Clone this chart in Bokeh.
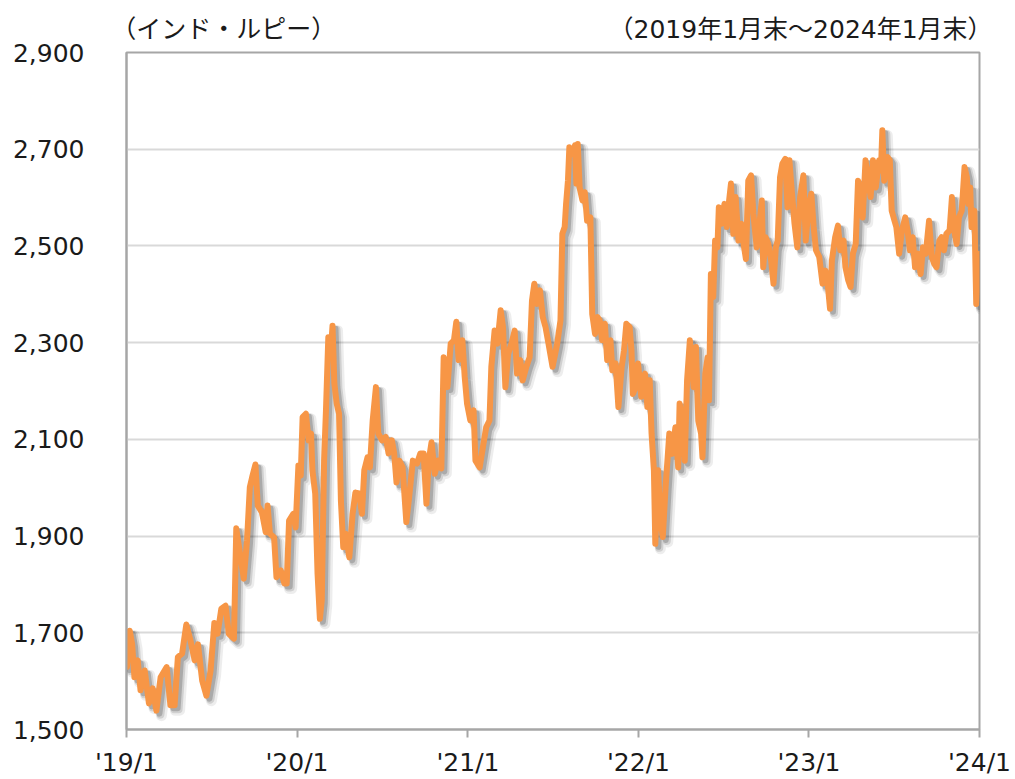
from bokeh.plotting import figure
from bokeh.models import FixedTicker, NumeralTickFormatter, LinearAxis, Range1d, ColumnDataSource
from bokeh.embed import file_html
from bokeh.resources import INLINE

# ---- data: days since 2019-01-31 and price (Indian rupee) ----
days = [0, 1, 7, 12, 17, 24, 30, 39, 48, 56, 64, 73, 86, 94, 103, 110, 119, 128, 137, 146,
        153, 162, 171, 180, 188, 195, 203, 212, 219, 230, 235, 243, 251, 258, 264, 269, 276, 281, 290, 298,
        302, 307, 316, 321, 330, 338, 343, 348, 357, 362, 368, 373, 377, 384, 390, 395, 398, 404, 409, 414,
        418, 423, 427, 432, 437, 441, 445, 450, 455, 459, 464, 469, 477, 484, 490, 498, 504, 509, 516, 521,
        527, 534, 539, 547, 555, 561, 568, 573, 578, 584, 591, 599, 605, 613, 622, 629, 636, 642, 647, 653,
        660, 667, 674, 679, 687, 694, 701, 706, 711, 719, 724, 729, 736, 743, 747, 756, 763, 770, 777, 781,
        788, 794, 801, 806, 811, 817, 824, 831, 836, 843, 848, 856, 863, 868, 873, 878, 885, 891, 897, 903,
        912, 922, 929, 933, 938, 941, 945, 948, 954, 960, 963, 966, 970, 976, 981, 986, 993, 997, 1003, 1008,
        1013, 1018, 1024, 1029, 1036, 1040, 1047, 1053, 1060, 1065, 1070, 1077, 1081, 1084, 1090, 1095, 1102, 1110, 1115, 1120,
        1124, 1129, 1132, 1138, 1143, 1148, 1154, 1162, 1168, 1175, 1181, 1184, 1190, 1195, 1200, 1206, 1214, 1219, 1224, 1230,
        1233, 1239, 1244, 1247, 1251, 1256, 1260, 1265, 1268, 1274, 1280, 1285, 1290, 1294, 1299, 1304, 1310, 1316, 1321, 1326,
        1331, 1337, 1342, 1349, 1355, 1360, 1363, 1368, 1374, 1380, 1385, 1390, 1394, 1399, 1404, 1410, 1415, 1419, 1424, 1430,
        1436, 1442, 1449, 1454, 1460, 1466, 1471, 1476, 1483, 1490, 1496, 1501, 1506, 1510, 1517, 1523, 1528, 1535, 1539, 1545,
        1550, 1555, 1561, 1566, 1571, 1576, 1582, 1588, 1593, 1598, 1604, 1611, 1615, 1618, 1622, 1629, 1634, 1638, 1644, 1648,
        1654, 1660, 1667, 1672, 1677, 1683, 1688, 1694, 1700, 1705, 1711, 1718, 1724, 1729, 1734, 1740, 1745, 1750, 1755, 1762,
        1767, 1772, 1777, 1782, 1788, 1794, 1799, 1802, 1806, 1809, 1815, 1819, 1826]
price = [1640, 1629, 1704, 1677, 1608, 1643, 1581, 1622, 1554, 1585, 1539, 1608, 1629, 1550, 1550, 1650, 1657, 1717, 1684, 1643,
         1676, 1601, 1570, 1622, 1720, 1698, 1750, 1756, 1698, 1688, 1916, 1864, 1812, 1891, 2001, 2022, 2048, 1963, 1949, 1908,
         1963, 1905, 1897, 1815, 1829, 1802, 1802, 1932, 1946, 1918, 2046, 2025, 2146, 2153, 2098, 2112, 2036, 1988, 1822, 1729,
         1767, 2056, 2160, 2311, 2277, 2335, 2215, 2174, 2153, 1973, 1877, 1905, 1856, 1946, 1990, 1988, 1946, 2036, 2063, 2042,
         2139, 2208, 2112, 2098, 2105, 2071, 2098, 2071, 2011, 2056, 2042, 1929, 1980, 2056, 2050, 2071, 2071, 1967, 2056, 2094,
         2029, 2056, 2040, 2270, 2208, 2298, 2305, 2343, 2264, 2305, 2229, 2174, 2139, 2160, 2056, 2042, 2084, 2125, 2139, 2250,
         2325, 2298, 2367, 2332, 2208, 2277, 2298, 2325, 2236, 2264, 2222, 2250, 2270, 2387, 2422, 2380, 2408, 2353, 2332, 2300,
         2250, 2298, 2346, 2525, 2539, 2587, 2635, 2704, 2690, 2708, 2629, 2711, 2621, 2594, 2611, 2552, 2559, 2359, 2318, 2353,
         2346, 2305, 2339, 2264, 2305, 2243, 2257, 2167, 2250, 2284, 2339, 2332, 2284, 2194, 2208, 2257, 2188, 2236, 2167, 2222,
         2112, 2036, 1884, 2036, 1932, 1898, 2001, 2112, 2070, 2125, 2042, 2174, 2139, 2056, 2222, 2305, 2208, 2291, 2139, 2112,
         2063, 2236, 2270, 2181, 2442, 2394, 2511, 2497, 2580, 2546, 2587, 2539, 2594, 2629, 2525, 2601, 2511, 2546, 2504, 2473,
         2635, 2646, 2566, 2497, 2546, 2594, 2456, 2518, 2504, 2470, 2422, 2497, 2511, 2642, 2670, 2680, 2580, 2677, 2615, 2546,
         2497, 2601, 2646, 2511, 2580, 2608, 2539, 2491, 2477, 2422, 2449, 2422, 2370, 2470, 2518, 2542, 2491, 2511, 2456, 2429,
         2415, 2484, 2504, 2635, 2608, 2559, 2677, 2635, 2601, 2677, 2621, 2677, 2656, 2739, 2635, 2684, 2677, 2573, 2552, 2539,
         2484, 2532, 2559, 2532, 2491, 2518, 2456, 2484, 2442, 2497, 2484, 2552, 2477, 2463, 2456, 2511, 2518, 2491, 2525, 2532,
         2601, 2532, 2504, 2559, 2573, 2663, 2642, 2587, 2621, 2539, 2573, 2380, 2484]

year_tick_days = [0, 365, 731, 1096, 1461, 1826]
year_tick_labels = ["'19/1", "'20/1", "'21/1", "'22/1", "'23/1", "'24/1"]
y_ticks = [1500, 1700, 1900, 2100, 2300, 2500, 2700, 2900]
unit_label = "（インド・ルピー）"
period_label = "（2019年1月末～2024年1月末）"

X0, X1 = 0, 1826
Y0, Y1 = 1500, 2900

W, H = 1015, 779
BL, BR, BT, BB = 126, 36, 52, 50
FW, FH = W - BL - BR, H - BT - BB

# header text anchors (centre of each header text, in days along the x axis)
HEAD_LEFT_AT = 208
HEAD_RIGHT_AT = 1443

p = figure(width=W, height=H, output_backend="svg", toolbar_location=None,
           x_range=Range1d(X0, X1), y_range=Range1d(Y0, Y1),
           min_border_left=BL, min_border_right=BR, min_border_top=BT, min_border_bottom=BB)
p.background_fill_color = "white"
p.border_fill_color = "white"
p.outline_line_color = "#a6a6a6"
p.outline_line_width = 2

# grid
p.xgrid.visible = False
p.ygrid.ticker = FixedTicker(ticks=y_ticks)
p.ygrid.grid_line_color = "#d9d9d9"
p.ygrid.grid_line_width = 2

# y axis
p.yaxis.ticker = FixedTicker(ticks=y_ticks)
p.yaxis.formatter = NumeralTickFormatter(format="0,0")
p.yaxis.axis_line_color = "#a6a6a6"
p.yaxis.axis_line_width = 2
p.yaxis.major_tick_line_color = None
p.yaxis.minor_tick_line_color = None
p.yaxis.major_label_standoff = 36
p.yaxis.major_label_text_font = "DejaVu Sans"
p.yaxis.major_label_text_font_size = "25px"
p.yaxis.major_label_text_color = "#1a1a1a"

# x axis
p.xaxis.ticker = FixedTicker(ticks=year_tick_days)
p.xaxis.major_label_overrides = {d: lab for d, lab in zip(year_tick_days, year_tick_labels)}
p.xaxis.axis_line_color = "#a6a6a6"
p.xaxis.axis_line_width = 2
p.xaxis.major_tick_line_color = "#a6a6a6"
p.xaxis.major_tick_line_width = 2
p.xaxis.major_tick_in = 0
p.xaxis.major_tick_out = 8
p.xaxis.minor_tick_line_color = None
p.xaxis.major_label_standoff = 10
p.xaxis.major_label_text_font = "DejaVu Sans"
p.xaxis.major_label_text_font_size = "25px"
p.xaxis.major_label_text_color = "#1a1a1a"

# header texts: an axis above the frame carrying only the two texts
head = LinearAxis(ticker=FixedTicker(ticks=[HEAD_LEFT_AT, HEAD_RIGHT_AT]),
                  major_label_overrides={HEAD_LEFT_AT: unit_label, HEAD_RIGHT_AT: period_label},
                  axis_line_color=None, major_tick_line_color=None, minor_tick_line_color=None,
                  major_tick_in=0, major_tick_out=0, major_label_standoff=9,
                  major_label_text_font="DejaVu Sans, Noto Sans CJK JP", major_label_text_font_size="25px",
                  major_label_text_color="#1a1a1a")
p.add_layout(head, "above")

# shadow (offset by a few pixels right/down)
px_per_x = FW / (X1 - X0)
y_per_px = (Y1 - Y0) / FH
for off_px, lw, alpha in [(5, 11, 0.07), (4, 8, 0.12), (3, 6, 0.18)]:
    sdx = off_px / px_per_x
    sdy = off_px * y_per_px
    src = ColumnDataSource(dict(x=[d + sdx for d in days], y=[v - sdy for v in price]))
    p.line("x", "y", source=src, line_color="#000000", line_alpha=alpha, line_width=lw,
           line_join="round", line_cap="round")

main = ColumnDataSource(dict(x=days, y=price))
p.line("x", "y", source=main, line_color="#F79646", line_width=6, line_join="round", line_cap="round")

open("out.html", "w").write(file_html(p, INLINE))
